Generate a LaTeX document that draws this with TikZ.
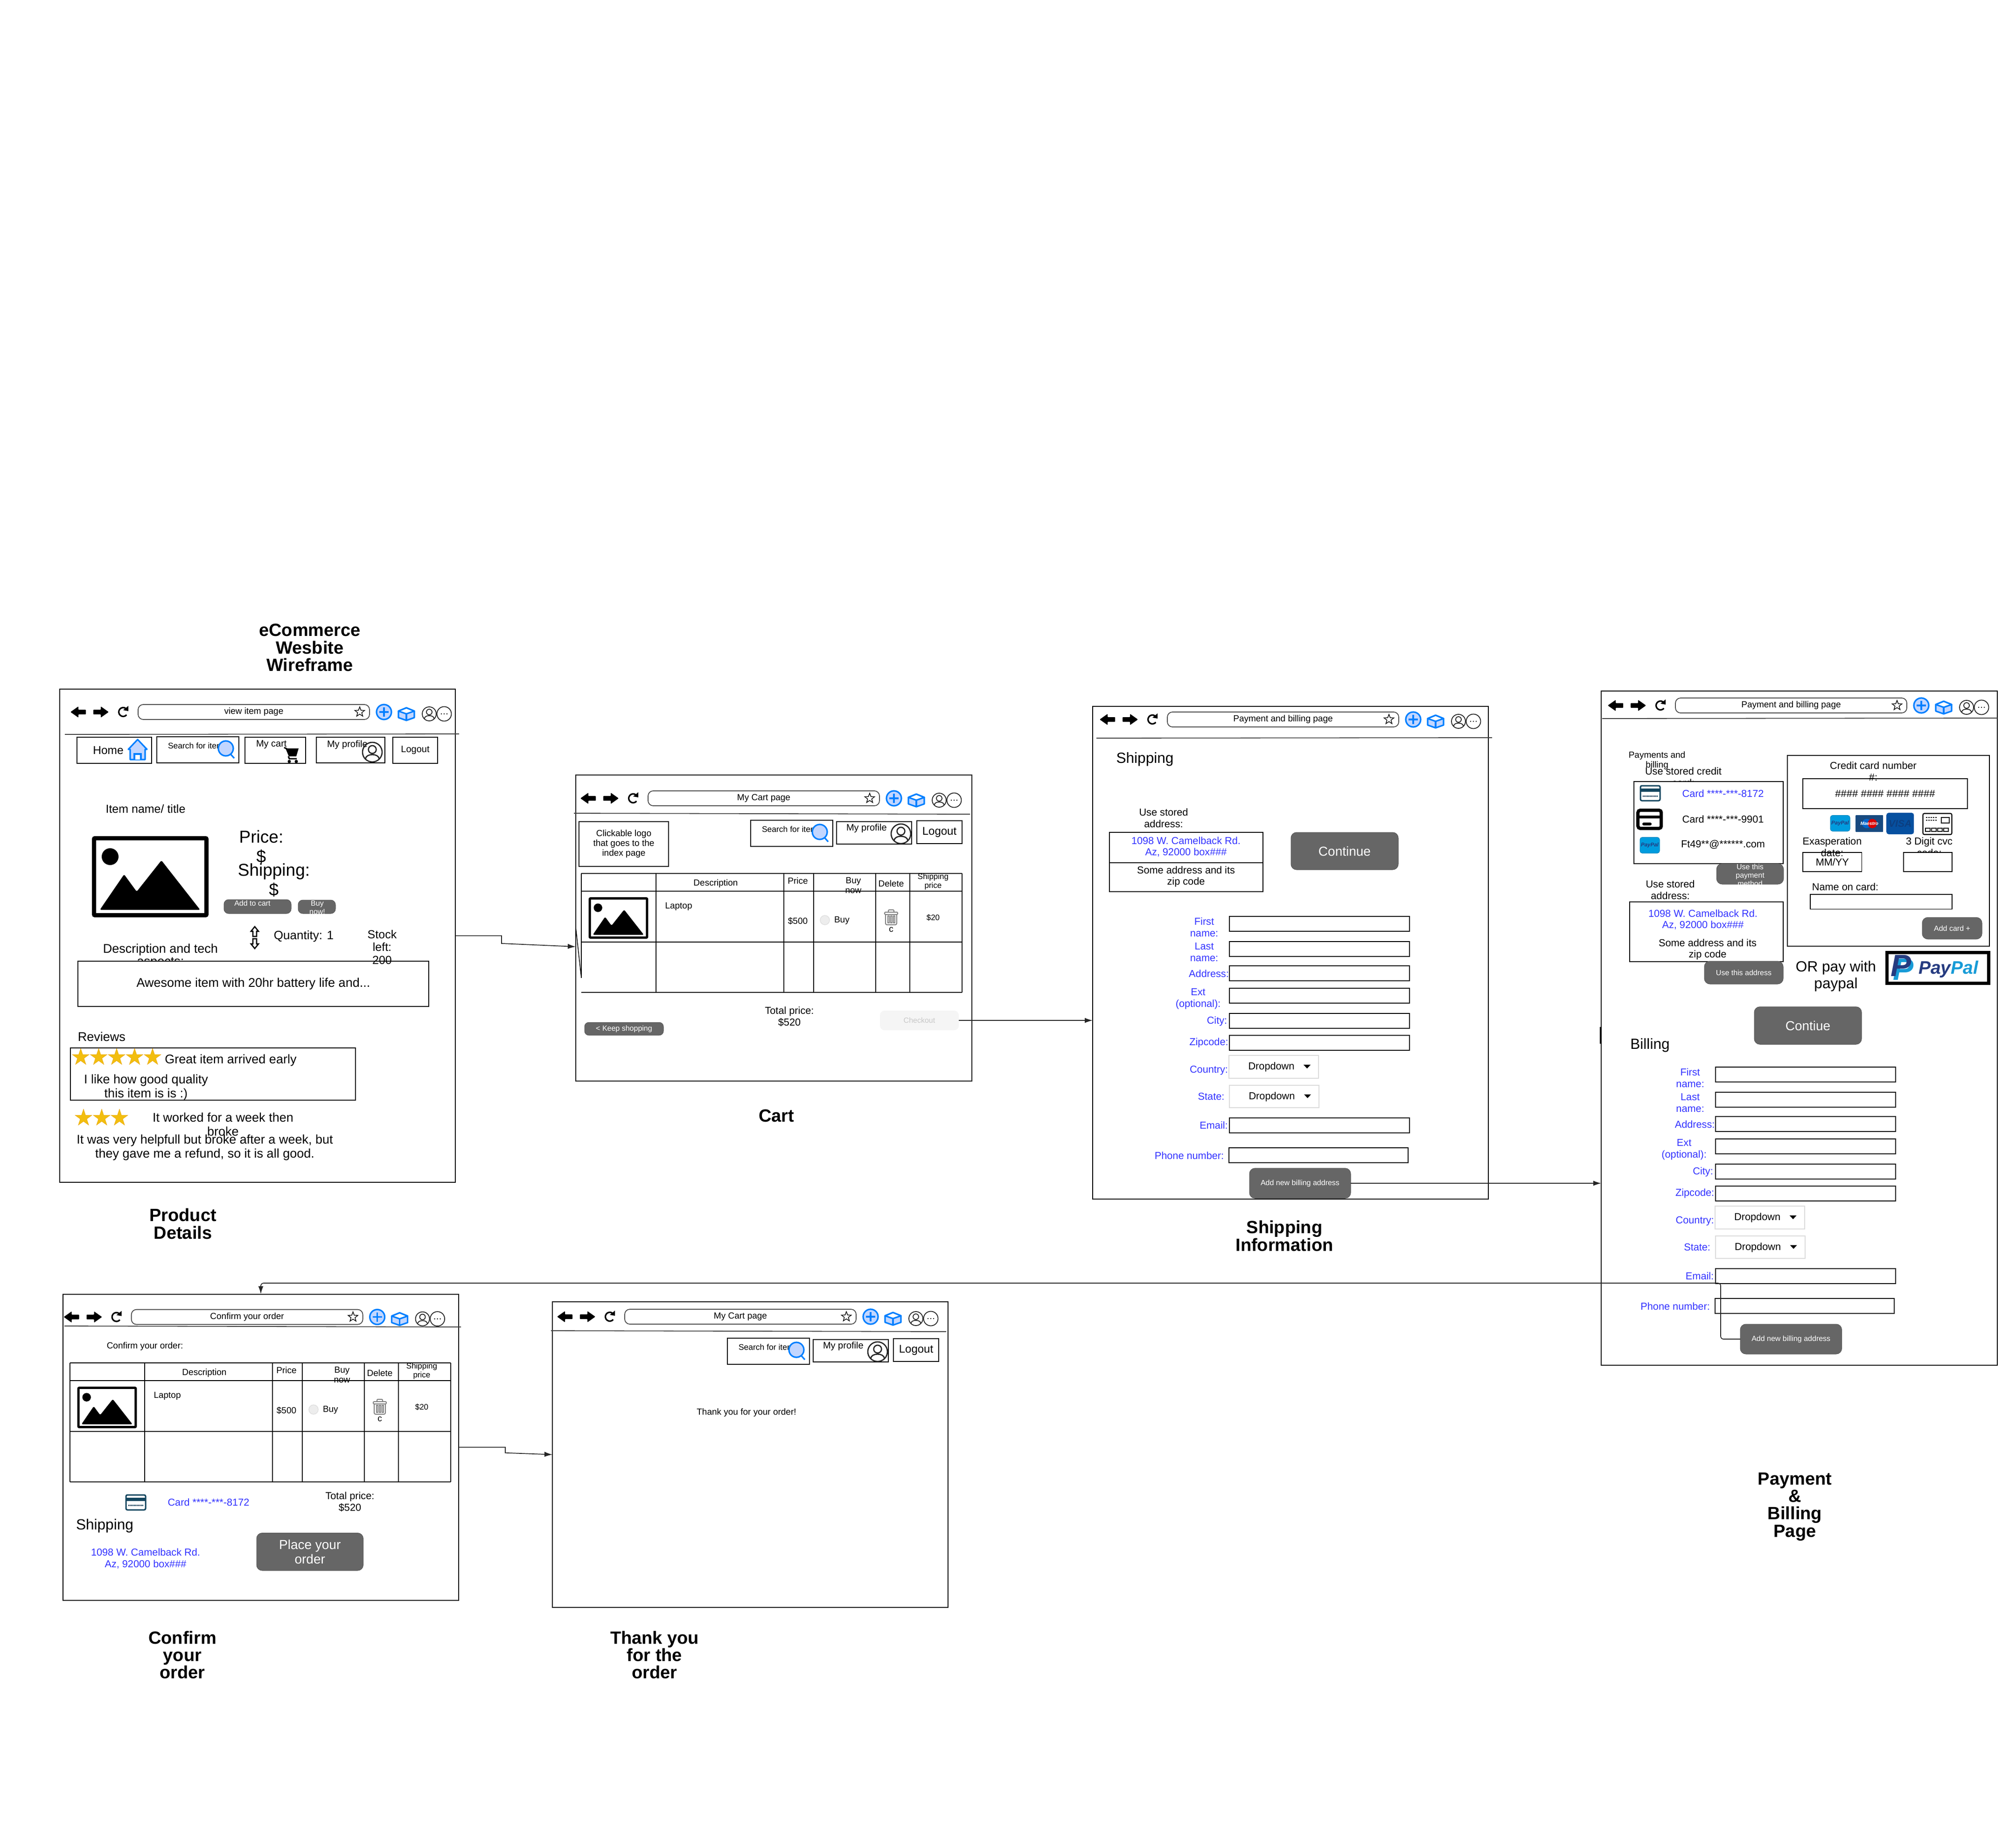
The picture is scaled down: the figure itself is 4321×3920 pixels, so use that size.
\documentclass[tikz,border=0pt]{standalone}
\usepackage{fontspec}
\setmainfont{Liberation Sans}
\usetikzlibrary{shapes, arrows.meta, positioning}
\definecolor{btngray}{HTML}{666666}
\definecolor{linkblue}{HTML}{3333FF}
\definecolor{iconblue}{HTML}{007FFF}
\definecolor{iconfill}{HTML}{C2D6FF}
\definecolor{starfill}{HTML}{F2BE0F}
\definecolor{starline}{HTML}{E8A000}
\definecolor{cardteal}{HTML}{14465F}
\definecolor{ppdark}{HTML}{253B80}
\definecolor{pplight}{HTML}{179BD7}
\definecolor{pptile}{HTML}{009CDE}
\definecolor{maestroblue}{HTML}{184A80}
\definecolor{visablue}{HTML}{0650A0}
\definecolor{visatext}{HTML}{0C3E80}

\begin{document}
\begin{tikzpicture}[
  x=1pt, y=-1pt,
  every node/.style={inner sep=0pt, outer sep=0pt, align=center},
  fontxs/.style={font=\fontsize{16}{18}\selectfont},
  fontsm/.style={font=\fontsize{17}{19}\selectfont},
  fontsr/.style={font=\fontsize{17.5}{19}\selectfont},
  fontui/.style={font=\fontsize{19}{21}\selectfont},
  fontnv/.style={font=\fontsize{20}{22}\selectfont},
  fontfm/.style={font=\fontsize{21.7}{24.5}\selectfont},
  fontmd/.style={font=\fontsize{27}{30}\selectfont},
  fontlg/.style={font=\fontsize{28}{31}\selectfont},
  fontxl/.style={font=\fontsize{31.6}{35.5}\selectfont},
  fontpr/.style={font=\fontsize{37}{42}\selectfont},
  caption/.style={font=\fontsize{38}{37.3}\selectfont\bfseries},
  winbox/.style={draw, fill=white, line width=2},
  sepline/.style={draw=black!75, line width=1.8},
  navbox/.style={draw, fill=white, line width=1.8},
  inputbox/.style={draw, fill=white, line width=2},
  thinbox/.style={draw, fill=white, line width=1.6},
  btn/.style={draw=black!65, fill=btngray, text=white, rounded corners=10, line width=1},
  dropbox/.style={draw=black!14, fill=white, line width=2},
  linktxt/.style={text=linkblue},
  iconline/.style={draw=iconblue, line width=3.2},
  tablerule/.style={draw, line width=1.8},
  gold/.style={star, star points=5, star point ratio=2.6, minimum size=38, fill=starfill, draw=starline, line width=.5},
  arrow/.style={-{Latex[length=17pt,width=11pt]}, line width=1.7, draw=black!85},
  chrome/.pic={
    \fill[rounded corners=1] (-17,0) -- (0,-12) -- (0,-5) -- (16,-5) -- (16,5) -- (0,5) -- (0,12) -- cycle;
    \fill[rounded corners=1] (65,0) -- (48,-12) -- (48,-5) -- (32,-5) -- (32,5) -- (48,5) -- (48,12) -- cycle;
    \draw[line width=3.2] (103.3,6.1) arc[start angle=40, end angle=305, radius=9.5];
    \fill (107,-13) -- (107,-2) -- (96,-4) -- cycle;
    \node[draw=black!70, fill=white, line width=1.8, rounded corners=11, minimum width=496, minimum height=32, fontui] (-url) at (376,0) {\tikzpictext};
    \node[star, star points=5, star point ratio=2.4, minimum size=22, draw, fill=white, line width=1.4] (-fav) at (603,0) {};
    \draw[iconline, fill=iconfill] (655,0) circle[radius=16];
    \draw[iconline] (645,0) -- (665,0) (655,-10) -- (655,10);
    \draw[iconline, fill=iconfill, line join=round] (686,-2) -- (703,-9) -- (720,-2) -- (720,12) -- (703,18) -- (686,12) -- cycle;
    \draw[iconline, fill=white, line join=round] (686,-2) -- (703,-9) -- (720,-2) -- (703,4) -- cycle;
    \draw[iconline] (703,4) -- (703,18);
    \pic[line width=1.8pt] (-acct) at (752,4) {usericon};
    \draw[line width=1.8, black!85] (784,4) circle[radius=15.5];
    \foreach \dx in {778,784,790} \fill (\dx,4) circle[radius=1.3];
  },
  usericon/.pic={
    \draw[black!85] (0,0) circle[radius=15];
    \draw[black!85] (0,-4) circle[radius=6];
    \draw[black!85] (-10.5,10.5) .. controls (-10,1.5) and (10,1.5) .. (10.5,10.5);
  },
  lens/.pic={
    \draw[iconline] (10,12) -- (18,21);
    \draw[iconline, fill=iconfill] (0,0) circle[radius=16];
  },
  searchbox/.pic={
    \node[navbox, anchor=north west, minimum width=176, minimum height=56] (-box) at (0,0) {};
    \node[fontsr, anchor=west] (-txt) at (24,19) {Search for item};
    \pic (-lens) at (148,25) {lens};
  },
  navright/.pic={
    \pic (-find) at (0,0) {searchbox};
    \node[navbox, minimum width=161, minimum height=48] (-me) at (264.5,27) {};
    \node[fontnv, anchor=west] (-metxt) at (205,17) {My profile};
    \pic[scale=1.4, line width=2.6pt] (-meicon) at (322,29) {usericon};
    \node[navbox, minimum width=97, minimum height=49, font=\fontsize{24}{26}\selectfont] (-out) at (404.5,25.5) {Logout};
  },
  imgicon/.pic={
    \draw[rounded corners=2] (-120.5,-82.5) rectangle (120.5,82.5);
    \fill (-86,-43) circle[radius=18];
    \fill[rounded corners=3] (-108,71) -- (-56,-5) -- (-29,32) -- (24,-35) -- (107,71) -- cycle;
  },
  trash/.pic={
    \draw[black!50, line width=2, rounded corners=2] (-14,-11) rectangle (14,-6);
    \draw[black!50, line width=2, rounded corners=2] (-6,-11) -- (-6,-16) -- (6,-16) -- (6,-11);
    \draw[black!50, line width=2, rounded corners=3] (-12,-6) -- (-12,16) -- (12,16) -- (12,-6);
    \foreach \sx in {-7,-1,5} \draw[black!50, line width=1.4] (\sx,-3) rectangle (\sx+3,12);
  },
  ordertable/.pic={
    \foreach \cx in {160,434,498,631,704,816} \draw[tablerule] (\cx,0) -- (\cx,255);
    \foreach \ry in {0,38,147,255} \draw[tablerule] (0,\ry) -- (816,\ry);
    \node[fontui] (-desc) at (288,22) {Description};
    \node[fontui] (-price) at (464,16) {Price};
    \node[fontui] (-buy) at (583,25.5) {Buy\\now};
    \node[fontui] (-del) at (664,22) {Delete};
    \node[fontsm] (-ship) at (754,17.5) {Shipping\\price};
    \pic[scale=.51, line width=5pt] (-img) at (79.5,95.5) {imgicon};
    \node[fontui, anchor=west] (-item) at (179.5,70.5) {Laptop};
    \node[fontui] (-cost) at (464,102) {\$500};
    \node[circle, draw=black!12, fill=black!7, line width=1.5, minimum size=20] (-radio) at (522,100) {};
    \node[fontui, anchor=west] (-buylbl) at (542,101) {Buy};
    \pic (-bin) at (664,94) {trash};
    \node[fontui] (-binlbl) at (664,120) {c};
    \node[fontsm] (-rate) at (754,94.5) {\$20};
  },
  dropdown/.pic={
    \node[dropbox, anchor=north west, minimum width=192, minimum height=48.5] (-box) at (0,0) {};
    \node[fontfm] (-txt) at (91,25) {Dropdown};
    \fill (160,20) -- (175,20) -- (167.5,28) -- cycle;
  },
  addressform/.pic={
    \foreach \fy/\fn in {0/first,54/last,106/addr,154/ext,208/city,255/zip,432/mail}
      \node[inputbox, anchor=north west, minimum width=386, minimum height=32] (-\fn) at (0,\fy) {};
    \node[inputbox, anchor=north west, minimum width=384, minimum height=32] (-phone) at (-1,496) {};
    \foreach \lx/\ly/\ltxt/\ln in {-54/23/{First\\name:}/lfirst, -54/76.5/{Last\\name:}/llast, -44/123/{Address:}/laddr,
        -67/177/{Ext\\(optional):}/lext, -26.5/225/{City:}/lcity, -44/271/{Zipcode:}/lzip, -44/330/{Country:}/lcountry,
        -39/386/{State:}/lstate, -33.5/448/{Email:}/lmail, -86/512.5/{Phone number:}/lphone}
      \node[fontfm, linktxt] (-\ln) at (\lx,\ly) {\ltxt};
    \pic (-country) at (-1,298) {dropdown};
    \pic (-state) at (0,361.5) {dropdown};
  },
  cardteal/.pic={
    \draw[cardteal, fill=white, line width=3, rounded corners=3] (-21,-16) rectangle (21,16);
    \fill[cardteal] (-21,-10) rectangle (21,-3);
    \draw[cardteal, line width=3, dash pattern=on 1.5pt off 1.5pt] (-16,6) -- (16,6);
  },
  pptile/.style={rounded corners=5, fill=pptile, draw=pptile!85!black, line width=1, text=ppdark, minimum width=42, minimum height=34, font=\fontsize{11.5}{13}\selectfont\bfseries\itshape}
]

\path[fill=white, use as bounding box] (0,0) rectangle (4321,3920);

\node[caption] (maintitle) at (664,1388) {eCommerce\\Wesbite\\Wireframe};

\node[winbox, minimum width=848, minimum height=1057] (prodwin) at (552,2005.5) {};
\pic[pic text={view item page}] (prodbar) at (168,1526) {chrome};
\draw[sepline] (139,1574) -- (984,1573);
\node[navbox, minimum width=160, minimum height=56] (homebox) at (245,1608) {};
\node[font=\fontsize{24.5}{27}\selectfont] (hometxt) at (232,1608) {Home};
\draw[iconline, fill=iconfill, line join=round] (295,1585) -- (315,1606) -- (311,1606) -- (311,1628) -- (279,1628) -- (279,1606) -- (275,1606) -- cycle;
\draw[iconline, fill=white] (288,1628) -- (288,1616) -- (302,1616) -- (302,1628);
\pic (prodfind) at (336,1579) {searchbox};
\node[navbox, minimum width=130, minimum height=56] (cartbox) at (590,1608) {};
\node[fontnv, anchor=west] (carttxt) at (549,1596) {My cart};
\draw[line width=3, line join=round] (609,1602) -- (615,1605);
\fill (612,1604) -- (640,1604) -- (635,1621) -- (619,1621) -- cycle;
\draw[line width=3] (618,1621) -- (620,1626) -- (636,1626);
\fill (620,1632) circle[radius=3.5] (635,1632) circle[radius=3.5];
\node[navbox, minimum width=147, minimum height=55] (profilebox) at (751.5,1607.5) {};
\node[fontnv, anchor=west] (profiletxt) at (701,1596) {My profile};
\pic[scale=1.4, line width=2.6pt] (profileicon) at (798,1612) {usericon};
\node[navbox, minimum width=96, minimum height=56, fontnv] (logoutbox) at (890,1608) {Logout};

\node[font=\fontsize{25}{28}\selectfont] (itemname) at (312,1734) {Item name/ title};
\pic[line width=9pt] (prodimg) at (322,1879) {imgicon};
\node[fontpr] (pricetxt) at (560,1815) {Price:\\\$};
\node[fontpr] (shiptxt) at (587,1886) {Shipping:\\\$};
\node[btn, minimum width=144, minimum height=30] (addcart) at (552,1943) {};
\node[fontxs, text=white] (addcarttxt) at (541,1936) {Add to cart};
\node[btn, minimum width=80, minimum height=29] (buynow) at (679,1943.5) {};
\node[fontxs, text=white] (buynowtxt) at (680,1945) {Buy\\now!};
\draw[line width=2.6, fill=white, line join=miter] (546,1986) -- (554,1996) -- (550,1996) -- (550,2007) -- (542,2007) -- (542,1996) -- (538,1996) -- cycle;
\draw[line width=2.6, fill=white, line join=miter] (546,2033) -- (554,2023) -- (550,2023) -- (550,2012) -- (542,2012) -- (542,2023) -- (538,2023) -- cycle;
\node[font=\fontsize{26}{29}\selectfont] (qtytxt) at (651,2007) {Quantity: 1};
\node[font=\fontsize{27}{27.5}\selectfont] (spectxt) at (344,2049) {Description and tech\\aspects:};
\node[thinbox, minimum width=752, minimum height=97, fontmd] (descbox) at (543,2108.5) {Awesome item with 20hr battery life and...};
\node[font=\fontsize{25}{27.5}\selectfont] (stocktxt) at (819,2030) {Stock\\left:\\200};

\node[fontmd] (reviewstxt) at (218,2222) {Reviews};
\node[winbox, minimum width=611, minimum height=112] (reviewbox) at (456.5,2302) {};
\foreach \sx [count=\si] in {173,211.5,250,288.5,327}
  \node[gold] (goodstar\si) at (\sx,2266) {};
\node[fontmd] (goodhead) at (494.5,2272) {Great item arrived early};
\node[fontmd] (goodbody) at (313,2330) {I like how good quality\\this item is is :)};
\foreach \sx [count=\si] in {179,218,256}
  \node[gold] (midstar\si) at (\sx,2396) {};
\node[fontmd] (midhead) at (478,2410) {It worked for a week then\\broke};
\node[fontmd] (midbody) at (439,2459) {It was very helpfull but broke after a week, but\\they gave me a refund, so it is all good.};
\node[caption] (prodcap) at (392,2623) {Product\\Details};

\node[winbox, minimum width=849, minimum height=656] (cartwin) at (1658.5,1989) {};
\pic[pic text={My Cart page}] (cartbar) at (1261,1711) {chrome};
\draw[sepline] (1230,1743) -- (2079,1745);
\node[thinbox, fontui, minimum width=192, minimum height=96] (logobox) at (1337,1809) {Clickable logo\\that goes to the\\index page};
\pic (cartnav) at (1609,1758) {navright};
\pic (carttable) at (1246,1872) {ordertable};
\draw[tablerule] (1246,1872) -- (1246,2096);
\draw[line width=1.5] (1234,1987) -- (1246,2096);
\node[fontfm] (carttotal) at (1692,2179) {Total price:\\\$520};
\node[btn, fontxs, minimum width=169, minimum height=27.5, rounded corners=9] (keepshop) at (1337.5,2205) {< Keep shopping};
\node[fill=black!4, text=black!22, fontxs, rounded corners=10, minimum width=169, minimum height=42] (checkout) at (1970.5,2187) {Checkout};
\node[caption] (cartcap) at (1664,2391) {Cart};

\node[winbox, minimum width=848, minimum height=1056] (shipwin) at (2766,2042) {};
\pic[pic text={Payment and billing page}] (shipbar) at (2374,1542) {chrome};
\draw[sepline] (2350,1582) -- (3198,1581);
\node[fontxl] (shiphead) at (2454,1627) {Shipping};
\node[fontfm] (shipstored) at (2494,1753) {Use stored\\address:};
\node[thinbox, minimum width=329, minimum height=127] (shipaddr) at (2542.5,1847.5) {};
\draw[line width=1.6] (shipaddr.west |- 0,1849) -- (shipaddr.east |- 0,1849);
\node[fontfm, linktxt] (shipaddrtxt) at (2542,1815) {1098 W. Camelback Rd.\\Az, 92000 box\#\#\#};
\node[fontfm] (shipsome) at (2542,1879) {Some address and its\\zip code};
\node[btn, fontlg, minimum width=230, minimum height=80, rounded corners=12] (shipcont) at (2882,1824) {Continue};
\pic (shipform) at (2635,1964) {addressform};
\node[btn, fontxs, minimum width=217, minimum height=64.5, rounded corners=12] (shipadd) at (2786.5,2536) {Add new billing address};
\node[caption] (shipcap) at (2753,2649) {Shipping\\Information};

\node[winbox, minimum width=849, minimum height=1445.5] (paywin) at (3856.5,2203.25) {};
\pic[pic text={Payment and billing page}] (paybar) at (3463,1512) {chrome};
\draw[sepline] (3434,1540) -- (4281,1539);
\draw[line width=2.5] (3430,2201) -- (3430,2237);
\node[fontui] (payhead) at (3551.5,1630.5) {Payments and\\billing};
\node[fontfm] (paystored) at (3608,1665) {Use stored credit\\card:};
\node[winbox, minimum width=320, minimum height=176] (cardlist) at (3662,1763) {};
\pic (cardone) at (3537,1700) {cardteal};
\node[fontfm, linktxt] (cardonetxt) at (3693,1701) {Card ****-***-8172};
\node[draw, fill=white, line width=7, rounded corners=5, minimum width=50, minimum height=39] (cardtwo) at (3535.7,1756) {};
\fill (3511,1748) rectangle (3560,1754);
\fill[rounded corners=3] (3520,1763) rectangle (3540,1769);
\node[fontfm] (cardtwotxt) at (3693,1756) {Card ****-***-9901};
\node[pptile] (paytile) at (3536,1811.5) {PayPal};
\node[fontfm] (paytiletxt) at (3693,1810) {Ft49**@******.com};
\node[btn, minimum width=143.5, minimum height=44, rounded corners=12] (usepay) at (3751,1873) {};
\node[fontxs, text=white] (usepaytxt) at (3751,1876) {Use this\\payment\\method};
\node[fontfm] (addrstored) at (3580,1907) {Use stored\\address:};
\node[thinbox, minimum width=329, minimum height=128] (payaddr) at (3657.5,1997) {};
\node[fontfm, linktxt] (payaddrtxt) at (3650,1971) {1098 W. Camelback Rd.\\Az, 92000 box\#\#\#};
\node[fontfm] (paysome) at (3660,2035) {Some address and its\\zip code};
\node[btn, fontxs, minimum width=169, minimum height=49, rounded corners=12] (useaddr) at (3737.5,2084.5) {Use this address};
\node[winbox, minimum width=433, minimum height=409] (creditpanel) at (4047.5,1823.5) {};
\node[thinbox, font=\fontsize{22}{24}\selectfont, minimum width=353, minimum height=63.5] (numberbox) at (4040.5,1701) {\#\#\#\# \#\#\#\# \#\#\#\# \#\#\#\#};
\node[fontfm] (credittxt) at (4015,1653) {Credit card number\\\#:};
\node[pptile] (ppicon) at (3944,1764.5) {PayPal};
\node[fill=maestroblue, rounded corners=1, minimum width=59, minimum height=36] (maestroicon) at (4006.7,1765) {};
\fill[iconblue!80!black] (4001,1765) circle[radius=10];
\fill[red!85!black] (4013,1765) circle[radius=10];
\node[text=white, font=\fontsize{10}{11}\selectfont\bfseries\itshape] (maestrotxt) at (4006.7,1765) {Maestro};
\node[fill=visablue, text=visatext, rounded corners=5, minimum width=59, minimum height=46, font=\fontsize{21}{23}\selectfont\bfseries\itshape] (visaicon) at (4072.7,1765) {VISA};
\node[draw, fill=white, line width=2.2, rounded corners=3, minimum width=62, minimum height=45] (genericcard) at (4152.5,1766) {};
\draw[line width=1.8, dash pattern=on 3pt off 2pt] (4128,1752) -- (4151,1752) (4128,1758) -- (4151,1758);
\draw[line width=2] (4161,1752) rectangle (4178,1764);
\foreach \bx in {4127,4140,4153,4166} \draw[line width=2] (\bx,1775) rectangle (\bx+10,1782);
\node[thinbox, fontfm, minimum width=126.6, minimum height=41] (expirybox) at (3927.3,1847.5) {\raisebox{-2pt}{MM/YY}};
\node[fontfm] (expirytxt) at (3927,1815) {Exasperation\\date:};
\node[fontfm] (cvctxt) at (4135,1815) {3 Digit cvc\\code:};
\node[thinbox, minimum width=104, minimum height=41] (cvcbox) at (4132,1847.5) {};
\node[fontfm] (nametxt) at (3955,1901) {Name on card:};
\node[thinbox, minimum width=304, minimum height=31.5] (namebox) at (4032,1932.75) {};
\node[btn, fontxs, minimum width=128, minimum height=46.5, rounded corners=12] (addcard) at (4184,1989.5) {Add card +};
\node[fontxl] (orpay) at (3935,2092.5) {OR pay with\\paypal};
\node[draw, fill=white, line width=7, minimum width=218, minimum height=66] (paypallogo) at (4153.25,2074) {};
\node[text=pplight, font=\fontsize{66}{66}\selectfont\bfseries\itshape] (paypalback) at (4079,2078) {P};
\node[text=ppdark, font=\fontsize{66}{66}\selectfont\bfseries\itshape] (paypalfront) at (4074,2070) {P};
\node[font=\fontsize{39}{40}\selectfont\bfseries\itshape] (paypalword) at (4176,2077) {\textcolor{ppdark}{Pay}\textcolor{pplight}{Pal}};
\node[btn, fontlg, minimum width=230, minimum height=80.5, rounded corners=12] (paycont) at (3875,2198) {Contiue};
\node[fontxl] (billhead) at (3536.5,2240) {Billing};
\pic (payform) at (3676.6,2287) {addressform};
\node[btn, fontxs, minimum width=217.5, minimum height=64, rounded corners=12] (payadd) at (3838.75,2870) {Add new billing address};
\node[caption] (paycap) at (3847,3229) {Payment\\\&\\Billing\\Page};

\node[winbox, minimum width=848, minimum height=656.5] (confwin) at (559,3101.75) {};
\pic[pic text={Confirm your order}] (confbar) at (153.6,2822.6) {chrome};
\draw[sepline] (138,2842) -- (988,2844);
\node[fontui] (confhead) at (310.6,2886) {Confirm your order:};
\pic (conftable) at (150,2921) {ordertable};
\draw[tablerule] (150,2921) -- (150,3176);
\pic (confcard) at (291,3220) {cardteal};
\node[fontfm, linktxt] (confcardtxt) at (447,3220) {Card ****-***-8172};
\node[fontfm] (conftotal) at (750,3219) {Total price:\\\$520};
\node[fontxl] (confship) at (224.5,3270) {Shipping};
\node[fontfm, linktxt] (confaddr) at (312,3340.5) {1098 W. Camelback Rd.\\Az, 92000 box\#\#\#};
\node[btn, fontlg, minimum width=228.5, minimum height=80.5, rounded corners=12] (placeorder) at (664.25,3325.75) {Place your\\order};
\node[caption] (confcap) at (391,3547) {Confirm\\your\\order};

\node[winbox, minimum width=848, minimum height=655] (thankwin) at (1608,3117.5) {};
\pic[pic text={My Cart page}] (thankbar) at (1211,2822) {chrome};
\draw[sepline] (1181,2852) -- (2028,2854);
\pic (thanknav) at (1559,2868) {navright};
\node[fontui] (thanktxt) at (1600,3028) {Thank you for your order!};
\node[caption] (thankcap) at (1403,3547) {Thank you\\for the\\order};

\coordinate (cartin) at (1234,2029);
\coordinate (payturn) at (3688,2750);
\draw[arrow] (prodwin.east) -- ++(99,0) -- ++(0,16.5) -- (cartin);
\draw[arrow] (checkout.east) -- (shipwin.west |- checkout.east);
\draw[arrow] (shipadd.east) -- (paywin.west |- shipadd.east);
\draw[arrow, rounded corners=6] (payadd.west) -| (payturn) -| (confwin.north);
\draw[arrow] (confwin.east) -- ++(100,0) -- ++(0,12) -- (thankwin.west);

\end{tikzpicture}
\end{document}
